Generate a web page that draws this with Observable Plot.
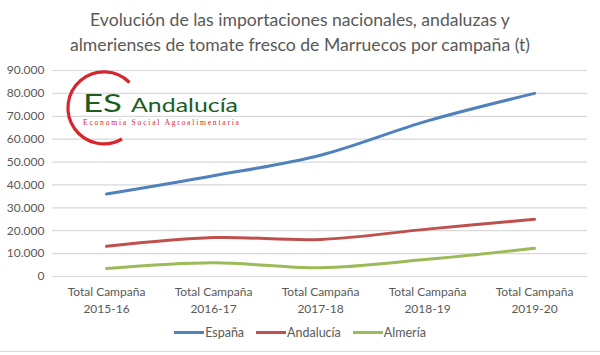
<!DOCTYPE html>
<html>
<head>
<meta charset="utf-8">
<script src="https://cdn.jsdelivr.net/npm/d3@7"></script>
<script src="https://cdn.jsdelivr.net/npm/@observablehq/plot@0.6"></script>
<style>
  html, body { margin: 0; padding: 0; background: #fff; }
  #wrap { position: relative; width: 600px; height: 355px; overflow: hidden; font-family: Lato, "Open Sans", sans-serif; color: #595959; }
  #title { position: absolute; top: 7px; left: 0; width: 600px; text-align: center; font-size: 17.6px; line-height: 25px; color: #595959; }
  #chart { position: absolute; top: 62px; left: 0; }
  #legend { position: absolute; top: 325px; left: 0; width: 600px; display: flex; justify-content: center; gap: 12px; font-size: 12.5px; color: #595959; }
  #legend span.item { display: flex; align-items: center; }
  #legend span.sw { display: inline-block; width: 30px; height: 3px; margin-right: 1px; }
  #border { position: absolute; left: 0; top: 351px; width: 600px; height: 1px; background: #d9d9d9; }
  #logo { position: absolute; left: 0; top: 0; }
</style>
</head>
<body>
<div id="wrap">
  <div id="title">Evolución de las importaciones nacionales, andaluzas y<br>almerienses de tomate fresco de Marruecos por campaña (t)</div>
  <div id="chart"></div>
  <svg id="logo" width="600" height="355">
    <path d="M 129.5 82.5 A 36 36 0 1 0 122 139" fill="none" stroke="#d7262e" stroke-width="3.2"/>
    <text x="83" y="112" font-family="Lato, sans-serif" font-size="25" textLength="39" lengthAdjust="spacingAndGlyphs" fill="#1c5e22">ES</text>
    <text x="131" y="112" font-family="Lato, sans-serif" font-size="20" textLength="107" lengthAdjust="spacingAndGlyphs" fill="#1c5e22">Andalucía</text>
    <text x="83" y="125" font-family="'Liberation Serif', serif" font-size="7.6" textLength="156" lengthAdjust="spacing" fill="#d7262e">Economia Social Agroalimentaria</text>
  </svg>
  <div id="legend"></div>
  <div id="border"></div>
</div>
<script>
const campaigns = ["Total Campaña\n2015-16", "Total Campaña\n2016-17", "Total Campaña\n2017-18", "Total Campaña\n2018-19", "Total Campaña\n2019-20"];
const seriesNames = ["España", "Andalucía", "Almería"];
const espana = [36000, 44000, 53000, 68000, 80000];
const andalucia = [13200, 17000, 16200, 20700, 25000];
const almeria = [3500, 6000, 3800, 7500, 12300];
const colors = ["#4f81bd", "#c0504d", "#9bbb59"];
const yTicks = [0, 10000, 20000, 30000, 40000, 50000, 60000, 70000, 80000, 90000];

const allValues = [espana, andalucia, almeria];
const data = [];
seriesNames.forEach((s, i) => campaigns.forEach((c, j) => data.push({serie: s, campaign: c, value: allValues[i][j]})));

const es = d3.formatLocale({decimal: ",", thousands: ".", grouping: [3], currency: ["", " €"]});
const fmt = es.format(",");

const chart = Plot.plot({
  width: 600,
  height: 262,
  marginTop: 8,
  marginBottom: 48,
  marginLeft: 52,
  marginRight: 13,
  style: {fontFamily: "Lato, 'Open Sans', sans-serif", fontSize: "12px", color: "#595959", background: "transparent"},
  x: {type: "point", domain: campaigns, padding: 0.5, label: null},
  y: {domain: [0, 90000], label: null},
  color: {domain: seriesNames, range: colors},
  marks: [
    Plot.ruleY(yTicks, {stroke: "#d9d9d9", strokeWidth: 1.2}),
    Plot.axisY({ticks: yTicks, tickFormat: fmt, tickSize: 0, tickPadding: 8, label: null, fill: "#595959", fontSize: 12}),
    Plot.axisX({tickSize: 0, tickPadding: 8, lineHeight: 1.4, label: null, fill: "#595959", fontSize: 12}),
    Plot.line(data, {x: "campaign", y: "value", z: "serie", stroke: "serie", strokeWidth: 3, curve: "catmull-rom"})
  ]
});
document.getElementById("chart").appendChild(chart);

const legend = document.getElementById("legend");
seriesNames.forEach((s, i) => {
  const item = document.createElement("span");
  item.className = "item";
  const sw = document.createElement("span");
  sw.className = "sw";
  sw.style.background = colors[i];
  item.appendChild(sw);
  item.appendChild(document.createTextNode(s));
  legend.appendChild(item);
});
</script>
</body>
</html>
